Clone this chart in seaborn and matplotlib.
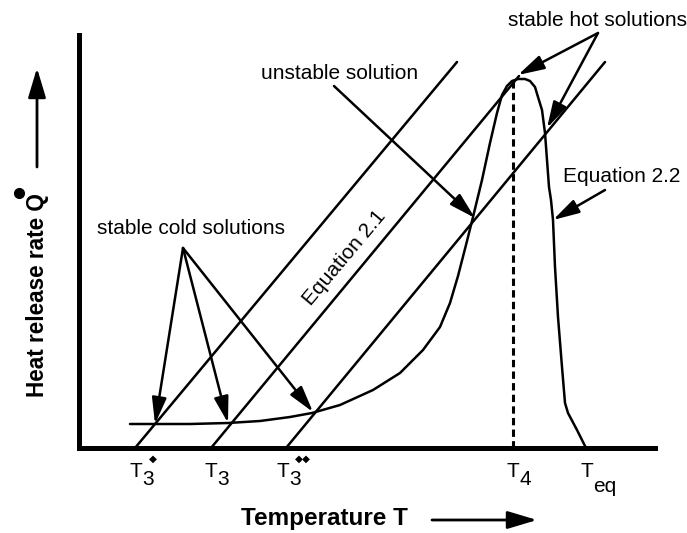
import matplotlib
matplotlib.use("Agg")
import matplotlib.pyplot as plt
import seaborn as sns
import pandas as pd

sns.set_style("white")
plt.rcParams["font.family"] = ["Liberation Sans", "DejaVu Sans"]
plt.rcParams["text.color"] = "black"

# ---------------- data ----------------
# Equation 2.2: heat release curve (T, Q)
curve_T = [51, 76, 111, 149, 181, 211, 233, 261, 294, 321, 344, 361, 371, 379, 387,
           394, 403, 411, 418, 423, 428, 433, 439, 446, 451, 456, 459, 463, 466, 468,
           470, 472, 474, 476, 479, 483, 486, 489, 498, 507]
curve_Q = [24, 24, 24, 25, 27, 31, 35, 43, 58, 75, 98, 121, 145, 172, 203,
           231, 268, 305, 335, 353, 362, 367, 369, 369, 367, 361, 351, 338, 315, 288,
           261, 248, 228, 181, 131, 81, 45, 35, 18, 0]

# Equation 2.1: three parallel straight lines (start T at Q=0, end point)
line_names = ["T3'", "T3", "T3''"]
line_T0 = [56, 132, 207]
line_T1 = [378, 440, 526]
line_Q1 = [386, 372, 386]

# T4 (peak) dashed marker
t4_T = 434
t4_Q = 366

# axis tick labels
tick_pos = [57, 132, 204, 434, 508]
tick_main = ["T", "T", "T", "T", "T"]
tick_sub = ["3", "3", "3", "4", "eq"]
tick_prime = ["\u25c6", "", "\u25c6\u25c6", "", ""]

# annotations
cold_label = "stable cold solutions"
cold_text_xy = (112, 220)
cold_src = (104, 200)
cold_tips_T = [76, 149, 234]
cold_tips_Q = [24, 25, 36]

unstable_label = "unstable solution"
unstable_text_xy = (261, 375)
unstable_src = (255, 362)
unstable_tip = (396, 230)

hot_label = "stable hot solutions"
hot_text_xy = (518, 428)
hot_src = (519, 415)
hot_tips_T = [439, 468]
hot_tips_Q = [373, 320]

eq22_label = "Equation 2.2"
eq22_text_xy = (543, 272)
eq22_src = (526, 258)
eq22_tip = (474, 228)

eq21_label = "Equation 2.1"
eq21_text_xy = (265, 190)

# ---------------- figure ----------------
W, H = 687, 533
fig = plt.figure(figsize=(W / 100, H / 100), dpi=100)
ax = fig.add_axes([79 / W, (H - 448) / H, (655 - 79) / W, (448 - 35) / H])
ax.set_xlim(0, 576)
ax.set_ylim(0, 413)

lw = 1.8
curve_df = pd.DataFrame({"T": curve_T, "Q": curve_Q})
sns.lineplot(data=curve_df, x="T", y="Q", sort=False, color="black", lw=lw, ax=ax,
             estimator=None)

for name, t0, t1, q1 in zip(line_names, line_T0, line_T1, line_Q1):
    df = pd.DataFrame({"T": [t0, t1], "Q": [0, q1]})
    sns.lineplot(data=df, x="T", y="Q", color="black", lw=lw, ax=ax, estimator=None)

ax.plot([t4_T, t4_T], [0, t4_Q], color="black", lw=2.2, linestyle=(0, (2.4, 1.4)))

ax.set_xlabel("")
ax.set_ylabel("")
ax.set_xticks([])
ax.set_yticks([])
for s in ["top", "right"]:
    ax.spines[s].set_visible(False)
for s in ["left", "bottom"]:
    ax.spines[s].set_linewidth(3.6)
    ax.spines[s].set_color("black")
    ax.spines[s].set_capstyle("projecting")

# tick labels
for pos, m, sub, pr in zip(tick_pos, tick_main, tick_sub, tick_prime):
    ax.annotate(m, xy=(pos, 0), xycoords="data", xytext=(0, -21), textcoords="offset points",
                ha="center", va="baseline", fontsize=15, annotation_clip=False)
    sub_dy = -32 if sub == "eq" else -26.5
    ax.annotate(sub, xy=(pos, 0), xycoords="data", xytext=(4.6, sub_dy), textcoords="offset points",
                ha="left", va="baseline", fontsize=15, annotation_clip=False)
    if pr:
        ax.annotate(pr, xy=(pos, 0), xycoords="data", xytext=(8.5 if len(pr) > 1 else 9.5, -8),
                    textcoords="offset points", ha="left", va="center", fontsize=7.5,
                    annotation_clip=False, family=["DejaVu Sans"])

arrow_kw = dict(arrowstyle="-|>,head_length=0.8,head_width=0.22", color="black", lw=1.8,
                mutation_scale=20, shrinkA=0, shrinkB=0)

# annotation texts + arrows
fs = 15
ax.text(*cold_text_xy, cold_label, ha="center", va="center", fontsize=fs)
for tx, tq in zip(cold_tips_T, cold_tips_Q):
    ax.annotate("", xy=(tx, tq), xytext=cold_src, arrowprops=arrow_kw)

ax.text(*unstable_text_xy, unstable_label, ha="center", va="center", fontsize=fs)
ax.annotate("", xy=unstable_tip, xytext=unstable_src, arrowprops=arrow_kw)

ax.text(*hot_text_xy, hot_label, ha="center", va="center", fontsize=fs, clip_on=False)
for tx, tq in zip(hot_tips_T, hot_tips_Q):
    ax.annotate("", xy=(tx, tq), xytext=hot_src, arrowprops=arrow_kw, annotation_clip=False)

ax.text(*eq22_text_xy, eq22_label, ha="center", va="center", fontsize=fs)
ax.annotate("", xy=eq22_tip, xytext=eq22_src, arrowprops=arrow_kw)

ax.text(*eq21_text_xy, eq21_label, ha="center", va="center", fontsize=fs,
        rotation=50, rotation_mode="anchor")

# axis titles with arrows
fig.text(38 / W, 1 - 295 / H, "Heat release rate Q", rotation=90, ha="center", va="center",
         fontsize=16.3, fontweight="bold")
fig.add_artist(plt.Line2D([19 / W], [1 - 193 / H], marker="o", markersize=7, color="black",
                          transform=fig.transFigure))
big_arrow = dict(arrowstyle="-|>,head_length=1.0,head_width=0.3", color="black", lw=2.0,
                 mutation_scale=18, shrinkA=0, shrinkB=0)
ax.annotate("", xy=(37 / W, 1 - 68 / H), xytext=(37 / W, 1 - 167 / H),
            xycoords="figure fraction", textcoords="figure fraction", arrowprops=big_arrow)

fig.text(324 / W, 1 - 518 / H, "Temperature T", ha="center", va="center",
         fontsize=17.5, fontweight="bold")
ax.annotate("", xy=(537 / W, 1 - 520 / H), xytext=(432 / W, 1 - 520 / H),
            xycoords="figure fraction", textcoords="figure fraction", arrowprops=big_arrow)

fig.savefig("out.png", dpi=100)
